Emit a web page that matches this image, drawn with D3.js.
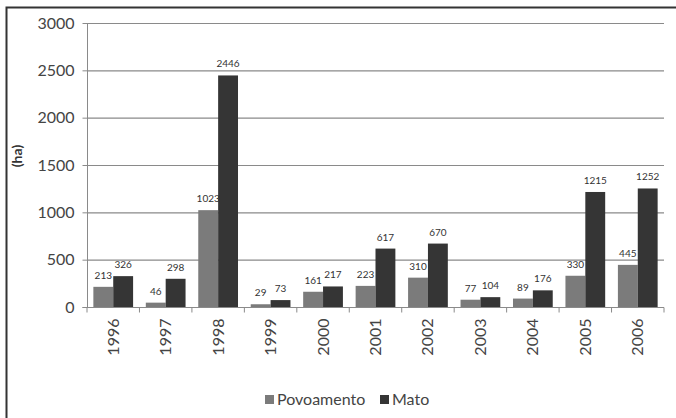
<!DOCTYPE html>
<html><head><meta charset="utf-8">
<script src="https://cdn.jsdelivr.net/npm/d3@7/dist/d3.min.js"></script>
<style>
body{margin:0;background:#fff;}
svg{display:block;font-family:Lato, "Open Sans", sans-serif;}
</style></head>
<body><svg id="c" width="676" height="418"></svg>
<script>
const years = ["1996","1997","1998","1999","2000","2001","2002","2003","2004","2005","2006"];
const povoamento = [213,46,1023,29,161,223,310,77,89,330,445];
const mato = [326,298,2446,73,217,617,670,104,176,1215,1252];
const seriesNames = ["Povoamento","Mato"];
const seriesColors = ["#7b7b7b","#353535"];
const yTicks = [0,500,1000,1500,2000,2500,3000];

const svg = d3.select("#c");
// frame
svg.append("path").attr("d","M6.5,430 L6.5,7.5 L690,7.5").attr("fill","none").attr("stroke","#333").attr("stroke-width",2);

const L=87, R=664, T=23, B=307;
const x = d3.scaleBand().domain(years).range([L,R]).paddingInner(0).paddingOuter(0);
const xs = d3.scaleBand().domain(seriesNames).range([0,x.bandwidth()]).paddingInner(0).paddingOuter(0.32);
const y = d3.scaleLinear().domain([0,3000]).range([B,T]);

// gridlines
svg.append("g").selectAll("line").data(yTicks.filter(d=>d>0)).join("line")
  .attr("x1",L).attr("x2",R).attr("y1",d=>y(d)+0.5).attr("y2",d=>y(d)+0.5)
  .attr("stroke","#8a8a8a").attr("stroke-width",1.2);

// y axis
const ya = svg.append("g").attr("transform",`translate(${L+0.5},0)`)
  .call(d3.axisLeft(y).tickValues(yTicks).tickFormat(d3.format("d")).tickSize(5).tickPadding(8));
ya.select(".domain").attr("stroke","#8a8a8a").attr("d",`M-5,${B+0.5}H0V${T}`);
ya.selectAll(".tick line").attr("stroke","#8a8a8a");
ya.selectAll(".tick text").attr("font-size",16).attr("fill","#444").attr("font-family","Lato, sans-serif");

// bars
const data = years.map((yr,i)=>({yr, vals:[povoamento[i],mato[i]]}));
const g = svg.append("g").selectAll("g").data(data).join("g")
  .attr("transform",d=>`translate(${x(d.yr)},0)`);
g.selectAll("rect").data(d=>d.vals.map((v,j)=>({v,s:seriesNames[j],c:seriesColors[j]}))).join("rect")
  .attr("x",d=>xs(d.s)).attr("width",xs.bandwidth())
  .attr("y",d=>y(d.v)).attr("height",d=>B-y(d.v)).attr("fill",d=>d.c);
g.selectAll("text").data(d=>d.vals.map((v,j)=>({v,s:seriesNames[j]}))).join("text")
  .attr("x",d=>xs(d.s)+xs.bandwidth()/2).attr("y",d=>y(d.v)-8)
  .attr("text-anchor","middle").attr("font-size",10).attr("fill","#333").text(d=>d.v);

// x axis
const xa = svg.append("g").attr("transform",`translate(0,${B+0.5})`);
xa.append("line").attr("x1",L).attr("x2",R).attr("stroke","#8a8a8a").attr("stroke-width",1.2);
xa.selectAll("line.tk").data(years.map(d=>x(d)).concat([R])).join("line").attr("class","tk")
  .attr("x1",d=>d).attr("x2",d=>d).attr("y1",0).attr("y2",5).attr("stroke","#8a8a8a");
xa.selectAll("text").data(years).join("text")
  .attr("transform",d=>`translate(${x(d)+x.bandwidth()/2+5.5},${11}) rotate(-90)`)
  .attr("text-anchor","end").attr("font-size",16).attr("fill","#444").text(d=>d);

// y title
svg.append("text").attr("transform","translate(22,156) rotate(-90)")
  .attr("text-anchor","middle").attr("font-size",14).attr("font-weight","bold").attr("fill","#333").text("(ha)");

// legend
const lg = svg.append("g").attr("transform","translate(265,405)");
const items = [{n:seriesNames[0],c:seriesColors[0],x:0},{n:seriesNames[1],c:seriesColors[1],x:115}];
items.forEach(it=>{
  lg.append("rect").attr("x",it.x).attr("y",-10).attr("width",9).attr("height",9).attr("fill",it.c);
  lg.append("text").attr("x",it.x+12).attr("y",0).attr("font-size",16).attr("fill","#444").text(it.n);
});
</script></body></html>
